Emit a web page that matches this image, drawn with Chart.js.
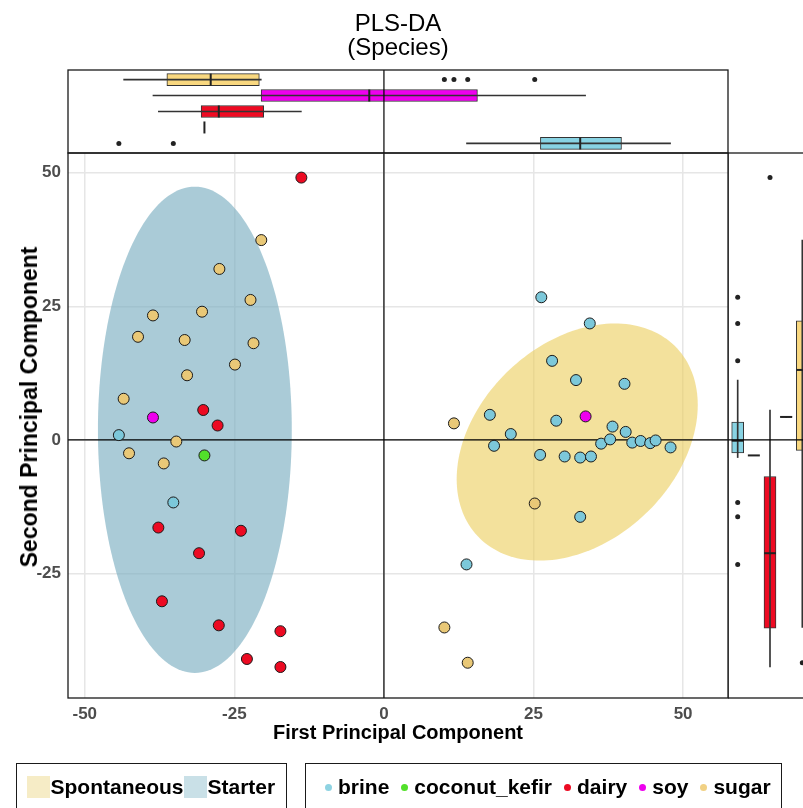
<!DOCTYPE html>
<html>
<head>
<meta charset="utf-8">
<script src="https://cdn.jsdelivr.net/npm/chart.js@4.4.1/dist/chart.umd.min.js"></script>
<style>
html,body{margin:0;padding:0;width:803px;height:808px;overflow:hidden;background:#fff;font-family:"Liberation Sans",Arial,sans-serif;}
#wrap{position:relative;width:803px;height:808px;overflow:hidden;}
canvas{position:absolute;}
#title{position:absolute;left:0;top:11px;width:796px;text-align:center;font-size:24px;line-height:24px;color:#000;}
#ytitle{position:absolute;left:29px;top:407px;transform:translate(-50%,-50%) rotate(-90deg);font-weight:bold;font-size:23px;line-height:26px;white-space:nowrap;color:#000;}
.lg{position:absolute;top:763px;height:70px;border:1.5px solid #1a1a1a;box-sizing:border-box;padding-top:12px;}
.row{display:flex;align-items:center;height:22px;font-weight:bold;font-size:21px;color:#000;white-space:nowrap;}
.sw{width:23px;height:22px;margin-right:1px;flex:none;}
.dot{width:7px;height:7px;border-radius:50%;margin-right:6px;flex:none;}
.rt{margin-right:12px;}
</style>
</head>
<body>
<div id="wrap">
  <canvas id="main" width="803" height="808" style="left:0;top:0"></canvas>
  <canvas id="top" width="803" height="160" style="left:0;top:0"></canvas>
  <canvas id="right" width="84" height="808" style="left:728px;top:0"></canvas>
  <div id="title">PLS-DA<br>(Species)</div>
  <div id="ytitle">Second Principal Component</div>
  <div class="lg" id="lgFill" style="left:16px;width:271px;padding-left:9.5px;"><div class="row" id="rowFill"></div></div>
  <div class="lg" id="lgSpecies" style="left:305px;width:477px;padding-left:19px;"><div class="row" id="rowSpecies"></div></div>
</div>
<script>
// ---------------- data ----------------
const species = ['brine', 'coconut_kefir', 'dairy', 'soy', 'sugar'];

const brineX = [-44.3, -35.2, 26.3, 34.4, 28.1, 32.1, 40.2, 17.7, 28.8, 38.2, 40.4, 21.2, 18.4, 26.1, 30.2, 32.8, 34.6, 36.3, 37.8, 41.5, 42.9, 44.5, 45.4, 47.9, 32.8, 13.8];
const brineY = [0.9, -11.7, 26.7, 21.8, 14.8, 11.2, 10.5, 4.7, 3.6, 2.5, 1.5, 1.1, -1.1, -2.8, -3.1, -3.3, -3.1, -0.7, 0.1, -0.5, -0.2, -0.6, -0.1, -1.4, -14.4, -23.3];
const coconutKefirX = [-30.0];
const coconutKefirY = [-2.9];
const dairyX = [-13.8, -30.2, -27.8, -37.7, -23.9, -30.9, -37.1, -27.6, -17.3, -22.9, -17.3];
const dairyY = [49.1, 5.6, 2.7, -16.4, -17.0, -21.2, -30.2, -34.7, -35.8, -41.0, -42.5];
const soyX = [-38.6, 33.7];
const soyY = [4.2, 4.4];
const sugarX = [-20.5, -27.5, -22.3, -30.4, -38.6, -41.1, -33.3, -21.8, -24.9, -32.9, -43.5, -34.7, -42.6, -36.8, 11.7, 25.2, 10.1, 14.0];
const sugarY = [37.4, 32.0, 26.2, 24.0, 23.3, 19.3, 18.7, 18.1, 14.1, 12.1, 7.7, -0.3, -2.5, -4.4, 3.1, -11.9, -35.1, -41.7];

// confidence ellipses (data units)
const groups = ['Spontaneous', 'Starter'];
const ellipseCenterX = [32.3, -31.6];
const ellipseCenterY = [-0.4, 1.9];
const ellipseRadiusA = [24.4, 16.2];
const ellipseRadiusB = [17.4, 45.5];
const ellipseAngleDeg = [53.6, 0];

// axes
const xTicks = [-50, -25, 0, 25, 50];
const yTicks = [-25, 0, 25, 50];
const xLimits = [-52.8, 57.5];
const yLimits = [-48.3, 53.7];

// ---------------- styles ----------------
const pointColors = ['#7CC8DA', '#52E02A', '#EC0A22', '#EE00EE', '#E9C877'];
const boxColors = ['#88D3E3', '#52E02A', '#EE0A22', '#EE00EE', '#F9D880'];
const legendDotColors = ['#8ED3E2', '#52E02A', '#EC0A22', '#EE00EE', '#F1D184'];
const ellipseFills = ['rgba(235,205,90,0.6)', 'rgba(120,172,192,0.63)'];
const legendSwatches = ['#F6ECC6', '#C9E0E7'];
const FONT = '"Liberation Sans", Arial, sans-serif';

const xsBySpecies = [brineX, coconutKefirX, dairyX, soyX, sugarX];
const ysBySpecies = [brineY, coconutKefirY, dairyY, soyY, sugarY];

// ---------------- box statistics (ggplot type-7 quantiles) ----------------
function q7(s, p) {
  const h = (s.length - 1) * p, lo = Math.floor(h), hi = Math.min(lo + 1, s.length - 1);
  return s[lo] + (h - lo) * (s[hi] - s[lo]);
}
function boxStats(vals) {
  const s = [...vals].sort((a, b) => a - b);
  const q1 = q7(s, 0.25), med = q7(s, 0.5), q3 = q7(s, 0.75), iqr = q3 - q1;
  const lo = q1 - 1.5 * iqr, hi = q3 + 1.5 * iqr;
  const inside = s.filter(v => v >= lo && v <= hi);
  return { q1, med, q3, wlo: Math.min(...inside), whi: Math.max(...inside), out: s.filter(v => v < lo || v > hi) };
}
const topStats = xsBySpecies.map(boxStats);
const rightStats = ysBySpecies.map(boxStats);

// ---------------- plugins ----------------
const framePlugin = {
  id: 'frame',
  afterDraw(chart) {
    const { ctx, chartArea: a } = chart;
    ctx.save();
    ctx.strokeStyle = '#1a1a1a';
    ctx.lineWidth = 1.3;
    ctx.strokeRect(a.left, a.top, a.right - a.left, a.bottom - a.top);
    ctx.restore();
  }
};

function drawZeroLines(chart, opts) {
  const { ctx, chartArea: a, scales } = chart;
  ctx.save();
  ctx.strokeStyle = '#000';
  ctx.lineWidth = 1.2;
  if (opts.vertical) {
    const px = scales.x.getPixelForValue(0);
    ctx.beginPath(); ctx.moveTo(px, a.top); ctx.lineTo(px, a.bottom); ctx.stroke();
  }
  if (opts.horizontal) {
    const py = scales.y.getPixelForValue(0);
    ctx.beginPath(); ctx.moveTo(a.left, py); ctx.lineTo(a.right, py); ctx.stroke();
  }
  ctx.restore();
}

const ellipsePlugin = {
  id: 'ellipses',
  beforeDatasetsDraw(chart) {
    const { ctx, scales: { x, y } } = chart;
    ctx.save();
    groups.forEach((g, k) => {
      const th = ellipseAngleDeg[k] * Math.PI / 180;
      ctx.beginPath();
      for (let j = 0; j <= 180; j++) {
        const t = j / 180 * 2 * Math.PI;
        const dx = ellipseRadiusA[k] * Math.cos(t), dy = ellipseRadiusB[k] * Math.sin(t);
        const vx = ellipseCenterX[k] + dx * Math.cos(th) - dy * Math.sin(th);
        const vy = ellipseCenterY[k] + dx * Math.sin(th) + dy * Math.cos(th);
        const px = x.getPixelForValue(vx), py = y.getPixelForValue(vy);
        if (j === 0) ctx.moveTo(px, py); else ctx.lineTo(px, py);
      }
      ctx.closePath();
      ctx.fillStyle = ellipseFills[k];
      ctx.fill();
    });
    ctx.restore();
    drawZeroLines(chart, { vertical: true, horizontal: true });
  }
};

const marginPlugin = {
  id: 'margin',
  afterDatasetsDraw(chart, args, opts) {
    const { ctx, scales } = chart;
    ctx.save();
    ctx.strokeStyle = '#222';
    ctx.lineWidth = 2;
    opts.stats.forEach((s, i) => {
      ctx.beginPath();
      if (opts.horizontalBoxes) {
        const px = scales.x.getPixelForValue(s.med), py = scales.y.getPixelForValue(i + 1);
        ctx.moveTo(px, py - opts.half); ctx.lineTo(px, py + opts.half);
      } else {
        const px = scales.x.getPixelForValue(i + 1), py = scales.y.getPixelForValue(s.med);
        ctx.moveTo(px - opts.half, py); ctx.lineTo(px + opts.half, py);
      }
      ctx.stroke();
    });
    ctx.restore();
    drawZeroLines(chart, { vertical: opts.horizontalBoxes, horizontal: !opts.horizontalBoxes });
  }
};

// ---------------- main scatter ----------------
const tickFont = { family: FONT, size: 17, weight: 'bold' };
const titleFont = { family: FONT, size: 20, weight: 'bold' };

new Chart(document.getElementById('main'), {
  type: 'scatter',
  data: {
    datasets: species.map((sp, i) => ({
      label: sp,
      data: xsBySpecies[i].map((v, j) => ({ x: v, y: ysBySpecies[i][j] })),
      backgroundColor: pointColors[i],
      borderColor: '#1a1a1a',
      borderWidth: 1,
      pointRadius: 5.5,
      pointHoverRadius: 5.5
    }))
  },
  options: {
    responsive: false,
    animation: false,
    layout: { padding: { left: 0, right: 75, top: 153, bottom: 63 } },
    plugins: { legend: { display: false }, tooltip: { enabled: false } },
    scales: {
      x: {
        type: 'linear', min: xLimits[0], max: xLimits[1],
        afterBuildTicks: s => { s.ticks = xTicks.map(v => ({ value: v })); },
        afterFit: s => { s.height = 47; },
        grid: { color: '#e6e6e6', lineWidth: 1.5, drawTicks: false },
        border: { display: false },
        ticks: { padding: 6, font: tickFont, color: '#4d4d4d' },
        title: { display: true, text: 'First Principal Component', font: titleFont, color: '#000', padding: { top: 0, bottom: 0 } }
      },
      y: {
        type: 'linear', min: yLimits[0], max: yLimits[1],
        afterBuildTicks: s => { s.ticks = yTicks.map(v => ({ value: v })); },
        afterFit: s => { s.width = 68; },
        grid: { color: '#e6e6e6', lineWidth: 1.5, drawTicks: false },
        border: { display: false },
        ticks: { padding: 7, font: tickFont, color: '#4d4d4d' },
        title: { display: false }
      }
    }
  },
  plugins: [ellipsePlugin, framePlugin]
});

// ---------------- top marginal boxplot (x values) ----------------
new Chart(document.getElementById('top'), {
  type: 'bar',
  data: {
    datasets: [
      {
        label: 'whisker', indexAxis: 'y', grouped: false, barThickness: 1,
        data: topStats.map((s, i) => ({ y: i + 1, x: [s.wlo, s.whi] })),
        backgroundColor: '#333', borderWidth: 0
      },
      {
        label: 'box', indexAxis: 'y', grouped: false, barThickness: 12,
        data: topStats.map((s, i) => ({ y: i + 1, x: [s.q1, s.q3] })),
        backgroundColor: boxColors, borderColor: '#333', borderWidth: 1, borderSkipped: false
      },
      {
        type: 'scatter', label: 'outliers',
        data: topStats.flatMap((s, i) => s.out.map(v => ({ x: v, y: i + 1 }))),
        backgroundColor: '#222', borderWidth: 0, pointRadius: 2.5
      }
    ]
  },
  options: {
    indexAxis: 'y',
    responsive: false,
    animation: false,
    layout: { autoPadding: false, padding: { left: 68, right: 75, top: 70, bottom: 7 } },
    plugins: { legend: { display: false }, tooltip: { enabled: false },
      margin: { stats: topStats, horizontalBoxes: true, half: 6 } },
    scales: {
      x: { type: 'linear', min: xLimits[0], max: xLimits[1], offset: false, display: false },
      y: { type: 'linear', min: 0.4, max: species.length + 0.6, offset: false, display: false }
    }
  },
  plugins: [marginPlugin, framePlugin]
});

// ---------------- right marginal boxplot (y values) ----------------
new Chart(document.getElementById('right'), {
  type: 'bar',
  data: {
    datasets: [
      {
        label: 'whisker', grouped: false, barThickness: 1,
        data: rightStats.map((s, i) => ({ x: i + 1, y: [s.wlo, s.whi] })),
        backgroundColor: '#333', borderWidth: 0
      },
      {
        label: 'box', grouped: false, barThickness: 12,
        data: rightStats.map((s, i) => ({ x: i + 1, y: [s.q1, s.q3] })),
        backgroundColor: boxColors, borderColor: '#333', borderWidth: 1, borderSkipped: false
      },
      {
        type: 'scatter', label: 'outliers',
        data: rightStats.flatMap((s, i) => s.out.map(v => ({ x: i + 1, y: v }))),
        backgroundColor: '#222', borderWidth: 0, pointRadius: 2.5
      }
    ]
  },
  options: {
    responsive: false,
    animation: false,
    layout: { autoPadding: false, padding: { left: 0, right: 0, top: 153, bottom: 110 } },
    plugins: { legend: { display: false }, tooltip: { enabled: false },
      margin: { stats: rightStats, horizontalBoxes: false, half: 6 } },
    scales: {
      x: { type: 'linear', min: 0.4, max: species.length + 0.6, offset: false, display: false },
      y: { type: 'linear', min: yLimits[0], max: yLimits[1], offset: false, display: false }
    }
  },
  plugins: [marginPlugin, framePlugin]
});

// ---------------- legends (HTML text) ----------------
const rowFill = document.getElementById('rowFill');
groups.forEach((g, k) => {
  const sw = document.createElement('span'); sw.className = 'sw'; sw.style.background = legendSwatches[k];
  const t = document.createElement('span'); t.textContent = g;
  rowFill.appendChild(sw); rowFill.appendChild(t);
});
const rowSpecies = document.getElementById('rowSpecies');
species.forEach((sp, i) => {
  const d = document.createElement('span'); d.className = 'dot'; d.style.background = legendDotColors[i];
  const t = document.createElement('span'); t.className = 'rt'; t.textContent = sp;
  rowSpecies.appendChild(d); rowSpecies.appendChild(t);
});
</script>
</body>
</html>
